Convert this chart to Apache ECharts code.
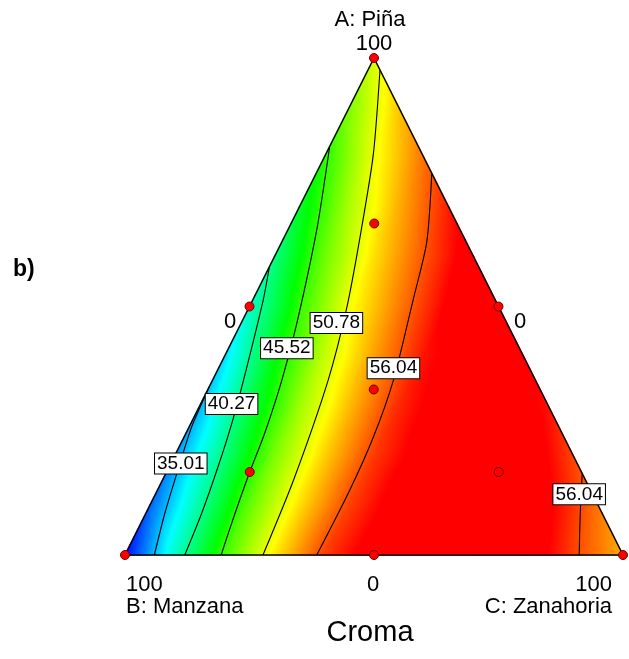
<!DOCTYPE html>
<html>
<head>
<meta charset="utf-8">
<script src="https://cdn.jsdelivr.net/npm/echarts@6/dist/echarts.min.js"></script>
<style>
html,body{margin:0;padding:0;background:#fff;}
#chart{width:629px;height:659px;}
</style>
</head>
<body>
<div id="chart"></div>
<script>
// ---- response surface: rows of constant A (%), values at C = 0,10,20,... (%)
const fieldRowA0   = [30.0, 38.5, 46.0, 51.9, 56.8, 59.6, 60.6, 60.8, 60.3, 56.7, 53.6];
const fieldRowA10  = [32.6, 39.6, 46.9, 52.2, 56.7, 59.6, 60.7, 60.9, 58.9, 55.2];
const fieldRowA20  = [34.0, 40.7, 47.6, 52.6, 56.9, 59.5, 60.5, 60.3, 56.6];
const fieldRowA30  = [34.85, 42.1, 48.5, 53.2, 57.4, 59.8, 60.3, 58.0];
const fieldRowA40  = [36.0, 43.7, 49.6, 54.0, 58.0, 59.8, 59.3];
const fieldRowA50  = [38.3, 45.4, 51.0, 55.0, 58.9, 60.0];
const fieldRowA60  = [40.6, 47.1, 52.2, 56.1, 59.8];
const fieldRowA70  = [42.9, 48.9, 53.6, 57.7];
const fieldRowA80  = [45.1, 50.9, 55.3];
const fieldRowA90  = [47.7, 52.9];
const fieldRowA100 = [50.2];
const fieldRows = [fieldRowA0, fieldRowA10, fieldRowA20, fieldRowA30, fieldRowA40, fieldRowA50,
                   fieldRowA60, fieldRowA70, fieldRowA80, fieldRowA90, fieldRowA100];

// colour scale (value -> colour)
const scaleValues = [29.75, 36.94, 44.13, 51.32, 58.5];
const scaleColors = ['#0000ff', '#00ffff', '#00ff00', '#ffff00', '#ff0000'];

// contour lines, points as [A, B, C] in %
const contour3501 = [[0,94.1,5.9],[8.4,87.8,3.8],[18.5,79.7,1.8],[25.8,73.7,0.5],[34,66,0]];
const contour4027 = [[0,88,12],[8.4,80.4,11.2],[17.8,72.4,9.8],[26.5,65.3,8.2],[35.2,58.6,6.2],[51.3,46.6,2.1],[58,42,0]];
const contour4552 = [[0,80.7,19.3],[8.4,73.7,17.9],[16.7,66.6,16.7],[24.5,59.7,15.8],[35.2,50.9,13.9],[46.6,42.2,11.2],[65.4,28.8,5.8],[82.2,17.8,0]];
const contour5078 = [[0,72.3,27.7],[15.1,58.6,26.3],[35.2,41.6,23.2],[49.6,30.7,19.7],[63.7,21.0,15.3],[80.5,9.9,9.6],[97.6,0,2.4]];
const contour5604a = [[0,61.5,38.5],[13.1,48.3,38.6],[23.8,38.2,38.0],[35.2,28.5,36.3],[51.3,16.5,32.2],[63.0,7.9,29.1],[76.8,0,23.2]];
const contour5604b = [[0,8.8,91.2],[8.0,4.6,87.4],[16.4,0,83.6]];
const contours = [contour3501, contour4027, contour4552, contour5078, contour5604a, contour5604b];

// contour labels
const labelTexts = ['35.01', '40.27', '45.52', '50.78', '56.04', '56.04'];
const labelPoints = [[18.4,79.6,2.0],[30.4,63.4,6.2],[41.6,46.7,11.7],[46.7,34.1,19.1],[37.6,27.3,35.1],[12.2,2.7,85.1]];

// design points (%)
const designA = [100, 0, 0, 50, 50, 0, 66.7, 16.7, 16.7, 33.3];
const designB = [0, 100, 0, 50, 0, 50, 16.7, 66.7, 16.7, 33.3];
const designC = [0, 0, 100, 0, 50, 50, 16.7, 16.7, 66.7, 33.3];

// ---- ternary projection onto the unit cartesian frame
function proj(a, c) { return [(c + a / 2) / 100, a / 100]; }
function projP(p) { return proj(p[0], p[2]); }

// triangles of the lattice
const tris = [];
for (let i = 0; i < fieldRows.length - 1; i++) {
  const row = fieldRows[i], up = fieldRows[i + 1];
  const a0 = i * 10, a1 = (i + 1) * 10;
  for (let j = 0; j < row.length - 1; j++) {
    const p0 = proj(a0, j * 10), p1 = proj(a0, (j + 1) * 10), p2 = proj(a1, j * 10);
    tris.push([p0[0], p0[1], row[j], p1[0], p1[1], row[j + 1], p2[0], p2[1], up[j]]);
  }
  for (let j = 0; j < up.length - 1; j++) {
    const p0 = proj(a0, (j + 1) * 10), p1 = proj(a1, (j + 1) * 10), p2 = proj(a1, j * 10);
    tris.push([p0[0], p0[1], row[j + 1], p1[0], p1[1], up[j + 1], p2[0], p2[1], up[j]]);
  }
}

function hex2rgb(h) { return [parseInt(h.substr(1,2),16), parseInt(h.substr(3,2),16), parseInt(h.substr(5,2),16)]; }
function colorAt(v) {
  const n = scaleValues.length;
  if (v <= scaleValues[0]) return scaleColors[0];
  if (v >= scaleValues[n - 1]) return scaleColors[n - 1];
  for (let k = 0; k < n - 1; k++) {
    if (v <= scaleValues[k + 1]) {
      const t = (v - scaleValues[k]) / (scaleValues[k + 1] - scaleValues[k]);
      const c0 = hex2rgb(scaleColors[k]), c1 = hex2rgb(scaleColors[k + 1]);
      return 'rgb(' + c0.map((x, m) => Math.round(x + (c1[m] - x) * t)).join(',') + ')';
    }
  }
}
const vLo = scaleValues[0], vHi = scaleValues[scaleValues.length - 1];
const gradStops = scaleValues.map((v, k) => ({ offset: (v - vLo) / (vHi - vLo), color: scaleColors[k] }));

function renderTri(params, api) {
  const P = [0, 1, 2].map(k => api.coord([api.value(3 * k), api.value(3 * k + 1)]));
  const V = [api.value(2), api.value(5), api.value(8)];
  const d1x = P[1][0] - P[0][0], d1y = P[1][1] - P[0][1];
  const d2x = P[2][0] - P[0][0], d2y = P[2][1] - P[0][1];
  const dv1 = V[1] - V[0], dv2 = V[2] - V[0];
  const det = d1x * d2y - d1y * d2x;
  let fill;
  const gx = (dv1 * d2y - dv2 * d1y) / det;
  const gy = (dv2 * d1x - dv1 * d2x) / det;
  const g2 = gx * gx + gy * gy;
  if (!isFinite(g2) || g2 < 1e-10) {
    fill = colorAt((V[0] + V[1] + V[2]) / 3);
  } else {
    const sx = P[0][0] + (vLo - V[0]) * gx / g2, sy = P[0][1] + (vLo - V[0]) * gy / g2;
    const ex = P[0][0] + (vHi - V[0]) * gx / g2, ey = P[0][1] + (vHi - V[0]) * gy / g2;
    fill = new echarts.graphic.LinearGradient(sx, sy, ex, ey, gradStops, true);
  }
  return {
    type: 'polygon',
    shape: { points: P },
    style: { fill: fill, stroke: fill, lineWidth: 1.6, lineJoin: 'round' },
    silent: true
  };
}

const FONT = '"Liberation Sans", Arial, sans-serif';
const series = [];
series.push({
  type: 'custom', renderItem: renderTri, data: tris, z: 1, silent: true,
  encode: { x: 0, y: 1 }
});
contours.forEach(cl => {
  series.push({
    type: 'line', data: cl.map(projP), showSymbol: false, symbol: 'none', smooth: 0.25,
    lineStyle: { color: '#000', width: 1.1 }, z: 3, clip: false, silent: true
  });
});
series.push({
  type: 'line', data: [proj(0, 0), proj(0, 100), proj(100, 0), proj(0, 0)],
  showSymbol: false, symbol: 'none', lineStyle: { color: '#000', width: 1.5 }, z: 4, clip: false, silent: true
});
series.push({
  type: 'scatter', data: designA.map((a, k) => proj(a, designC[k])),
  symbol: 'circle', symbolSize: 9,
  itemStyle: { color: '#ff0000', borderColor: '#6a0000', borderWidth: 1, opacity: 1 },
  z: 6, clip: false, silent: true
});
series.push({
  type: 'scatter', data: labelPoints.map((p, k) => ({ value: projP(p), name: labelTexts[k] })),
  symbolSize: 1, itemStyle: { color: 'rgba(0,0,0,0)', opacity: 1 }, z: 8, clip: false, silent: true,
  label: {
    show: true, position: 'inside', formatter: '{b}',
    fontFamily: FONT, fontSize: 19, color: '#000', lineHeight: 19,
    backgroundColor: '#ffffff', borderColor: '#000', borderWidth: 1, padding: [1, 2, 0, 2]
  },
  labelLayout: { hideOverlap: false }
});

function txt(text, x, y, size, align, bold) {
  return {
    type: 'text', x: x, y: y, silent: true, z: 10,
    style: {
      text: text, fill: '#000', font: (bold ? 'bold ' : '') + size + 'px ' + FONT,
      textAlign: align || 'center', textVerticalAlign: 'middle'
    }
  };
}

const chart = echarts.init(document.getElementById('chart'), null, { renderer: 'canvas' });
chart.setOption({
  animation: false,
  backgroundColor: '#ffffff',
  grid: { left: 125, right: 6, top: 58, bottom: 104, containLabel: false, show: false },
  xAxis: { type: 'value', min: 0, max: 1, show: false },
  yAxis: { type: 'value', min: 0, max: 1, show: false },
  series: series,
  graphic: [
    txt('A: Piña', 370, 20, 22),
    txt('100', 374, 44, 22),
    txt('0', 230, 322, 22),
    txt('0', 520, 322, 22),
    txt('100', 126, 585, 22, 'left'),
    txt('B: Manzana', 126, 607, 22, 'left'),
    txt('0', 373, 585, 22),
    txt('100', 612, 585, 22, 'right'),
    txt('C: Zanahoria', 612, 607, 22, 'right'),
    txt('Croma', 370, 633, 29),
    txt('b)', 13, 270, 23, 'left', true)
  ]
});
</script>
</body>
</html>
